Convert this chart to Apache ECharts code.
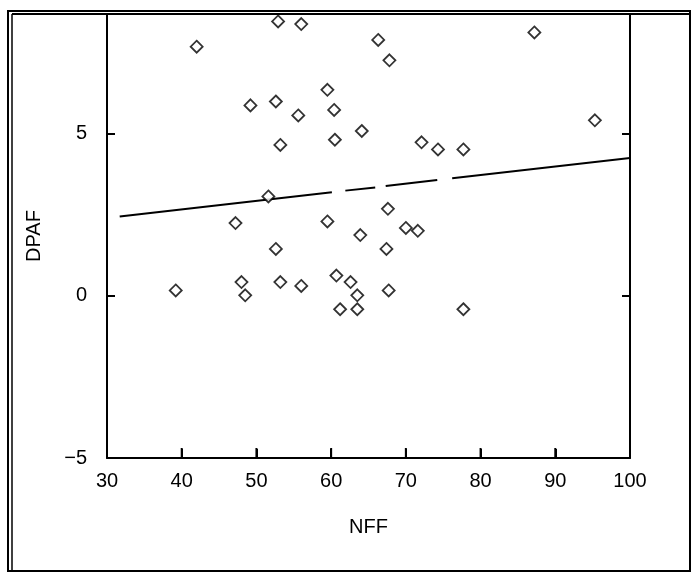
<!DOCTYPE html>
<html>
<head>
<meta charset="utf-8">
<script src="https://cdn.jsdelivr.net/npm/echarts@6/dist/echarts.min.js"></script>
<style>
html,body{margin:0;padding:0;background:#fff;}
#chart{width:692px;height:573px;}
</style>
</head>
<body>
<div id="chart"></div>
<script>
// NFF values (x) and DPAF values (y) of the scatter points
const nff  = [52.9, 56.0, 42.0, 66.3, 67.8, 87.2, 59.5, 49.2, 52.6, 60.4,
              55.6, 64.1, 95.3, 53.2, 60.5, 72.1, 74.3, 77.7, 51.6, 67.6,
              47.2, 59.5, 63.9, 70.0, 71.6, 52.6, 67.4, 48.0, 53.2, 56.0,
              60.7, 62.6, 39.2, 48.5, 63.5, 67.7, 61.2, 63.5, 77.7];
const dpaf = [8.47, 8.39, 7.69, 7.90, 7.27, 8.13, 6.36, 5.88, 6.00, 5.74,
              5.57, 5.09, 5.42, 4.66, 4.82, 4.74, 4.52, 4.52, 3.07, 2.69,
              2.25, 2.30, 1.88, 2.10, 2.01, 1.45, 1.45, 0.43, 0.43, 0.31,
              0.63, 0.43, 0.17, 0.02, 0.02, 0.17, -0.41, -0.41, -0.41];
// Regression line, drawn in broken segments as in the original print
const fitSegX = [[31.7, 60.1], [61.9, 65.9], [67.3, 74.2], [76.2, 100]];
const fitSegY = [[2.45, 3.20], [3.25, 3.35], [3.39, 3.58], [3.63, 4.26]];
// Axis ticks
const xTicks = [30, 40, 50, 60, 70, 80, 90, 100];
const yTicks = [-5, 0, 5];

const chart = echarts.init(document.getElementById('chart'));
const font = '"Liberation Sans", Arial, sans-serif';
const tickStyle = {color: '#000', width: 2};
const series = [{
  type: 'scatter',
  data: nff.map((x, i) => [x, dpaf[i]]),
  symbol: 'diamond',
  symbolSize: 12,
  itemStyle: {color: '#fff', borderColor: '#000', borderWidth: 1.8},
  z: 3
}];
fitSegX.forEach((sx, k) => {
  series.push({
    type: 'line',
    data: sx.map((x, j) => [x, fitSegY[k][j]]),
    symbol: 'none',
    lineStyle: {color: '#000', width: 2},
    z: 2
  });
});
const frame = [
  {type: 'rect', shape: {x: 8, y: 11, width: 682, height: 560},
   style: {fill: 'none', stroke: '#000', lineWidth: 2}, silent: true},
  {type: 'line', shape: {x1: 12, y1: 14, x2: 690, y2: 14},
   style: {stroke: '#000', lineWidth: 2}, silent: true},
  {type: 'line', shape: {x1: 12, y1: 14, x2: 12, y2: 571},
   style: {stroke: '#000', lineWidth: 1.5}, silent: true}
];
chart.setOption({
  animation: false,
  backgroundColor: '#fff',
  grid: {left: 107, right: 62, top: 14, bottom: 115},
  xAxis: {
    type: 'value', min: 30, max: 100, interval: 10,
    name: 'NFF', nameLocation: 'middle', nameGap: 59,
    nameTextStyle: {fontFamily: font, fontSize: 20, color: '#000'},
    axisLine: {show: true, onZero: false, lineStyle: {color: '#000', width: 2}},
    axisTick: {show: true, inside: true, length: 9, lineStyle: tickStyle},
    axisLabel: {fontFamily: font, fontSize: 20, color: '#000', margin: 13,
      formatter: v => xTicks.includes(v) ? String(v) : ''},
    splitLine: {show: false}
  },
  yAxis: [{
    type: 'value', min: -5, max: 8.7, interval: 5,
    name: 'DPAF', nameLocation: 'middle', nameGap: 63, nameRotate: 90,
    nameTextStyle: {fontFamily: font, fontSize: 20, color: '#000'},
    axisLine: {show: true, onZero: false, lineStyle: {color: '#000', width: 2}},
    axisTick: {show: true, inside: true, length: 8, lineStyle: tickStyle},
    axisLabel: {fontFamily: font, fontSize: 20, color: '#000', margin: 20,
      showMaxLabel: false,
      formatter: v => yTicks.includes(v) ? (v < 0 ? '\u2212' + Math.abs(v) : String(v)) : ''},
    splitLine: {show: false}
  }, {
    type: 'value', min: -5, max: 8.7, interval: 5, position: 'right',
    axisLine: {show: true, onZero: false, lineStyle: {color: '#000', width: 2}},
    axisTick: {show: true, inside: true, length: 8, lineStyle: tickStyle},
    axisLabel: {show: false},
    splitLine: {show: false}
  }],
  graphic: frame,
  series: series
});
// bottom-axis tick marks placed through the chart's own scale
const tickMarks = xTicks.slice(1, -1).map(v => {
  const p = chart.convertToPixel({xAxisIndex: 0, yAxisIndex: 0}, [v, yTicks[0]]);
  return {type: 'line', z: 100, silent: true,
          shape: {x1: p[0], y1: p[1], x2: p[0], y2: p[1] - 10},
          style: {stroke: '#000', lineWidth: 2}};
});
chart.setOption({graphic: frame.concat(tickMarks)});
</script>
</body>
</html>
